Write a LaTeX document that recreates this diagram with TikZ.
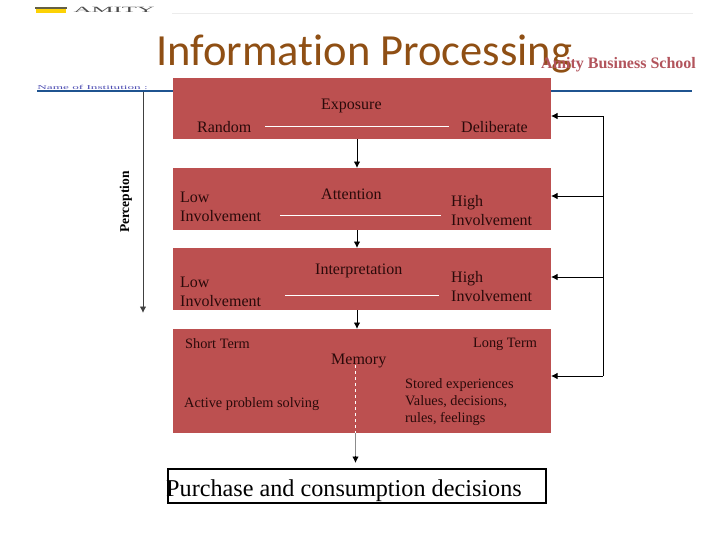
\documentclass[tikz,border=0pt]{standalone}
\usepackage{fontspec}
\setmainfont{Liberation Serif}
\newfontfamily\titlefont[Ligatures=NoCommon]{Carlito}
\definecolor{boxred}{HTML}{BC5050}
\definecolor{titlebrown}{HTML}{8F4F14}
\definecolor{schoolred}{HTML}{B2545C}
\definecolor{rulenavy}{HTML}{1F5490}
\definecolor{inktext}{HTML}{2A0A0A}
\usetikzlibrary{arrows.meta}
\tikzset{
  x=1pt,y=-1pt,
  panel/.style={fill=boxred,draw=none,minimum width=#1,inner sep=0pt,anchor=north west},
  lbl/.style={font=\fontsize{16}{19}\selectfont,text=inktext,inner sep=0pt,anchor=base west,align=left},
  small/.style={font=\fontsize{14.3}{17}\selectfont,text=inktext,inner sep=0pt,anchor=base west,align=left},
  splitline/.style={white,line width=0.8pt},
  flow/.style={black,line width=0.9pt,-{Latex[length=6.5pt,width=6.5pt]}},
  feedback/.style={black,line width=0.9pt},
}
\begin{document}
\begin{tikzpicture}
\useasboundingbox (0,0) rectangle (728,546);
% header
\fill[gray!15] (172,12.5) rectangle (693,13);
\fill[rulenavy] (37,89.5) rectangle (692,91.5);
\fill[black!70!yellow] (35,6.5) rectangle (67,8.5);
\fill[yellow!70!orange] (36,8.5) rectangle (66,12.5);
\node[inner sep=0pt,anchor=west,xscale=3.1,text=gray!60!black,font=\fontsize{8}{8}\selectfont] (logo) at (73,9.5) {AMITY};
\node[inner sep=0pt,anchor=west,xscale=2.2,text=blue!40!gray,font=\fontsize{6}{6}\selectfont] (inst) at (37,87) {Name of Institution :};
\node[panel=378pt,minimum height=61pt] (exposure) at (173,78) {};
\node[panel=378pt,minimum height=62pt] (attention) at (173,168) {};
\node[panel=378pt,minimum height=62pt] (interpretation) at (173,248) {};
\node[panel=378pt,minimum height=104pt] (memory) at (173,329) {};
\node[inner sep=0pt,anchor=base west,text=titlebrown,font=\titlefont\fontsize{44.5}{46}\selectfont] (title) at (156,65.5) {Information Processing};
\node[inner sep=0pt,anchor=base west,text=schoolred,font=\bfseries\fontsize{16}{18}\selectfont] (school) at (541,68) {Amity Business School};
% exposure
\node[lbl] (tExp) at (321,109) {Exposure};
\node[lbl] (tRan) at (197,132) {Random};
\node[lbl] (tDel) at (461,132) {Deliberate};
\coordinate (a1) at (265,126); \coordinate (a2) at (449,126);
\draw[splitline] (a1) -- (a2);
% attention
\node[lbl] (tAtt) at (321,199) {Attention};
\node[lbl] (tLow1) at (180,221) {Low\\Involvement};
\node[lbl] (tHigh1) at (451,225) {High\\Involvement};
\coordinate (b1) at (280,215); \coordinate (b2) at (441,215);
\draw[splitline] (b1) -- (b2);
% interpretation
\node[lbl] (tInt) at (315,274) {Interpretation};
\node[lbl] (tLow2) at (180,306) {Low\\Involvement};
\node[lbl] (tHigh2) at (451,301) {High\\Involvement};
\coordinate (c1) at (285,295); \coordinate (c2) at (439,295);
\draw[splitline] (c1) -- (c2);
% memory
\node[small] (tST) at (185,348) {Short Term};
\node[small] (tLT) at (473,347) {Long Term};
\node[lbl] (tMem) at (331,364) {Memory};
\node[small] (tAct) at (184,407) {Active problem solving};
\node[small] (tSto) at (405,422) {Stored experiences\\Values, decisions,\\rules, feelings};
% decision box
\node[draw=black,line width=1.5pt,minimum width=378pt,minimum height=34pt,inner sep=0pt,anchor=north west] (decide) at (167,468) {};
\node[inner sep=0pt,anchor=base west,font=\fontsize{24.2}{26}\selectfont] (tDec) at (166,496) {Purchase and consumption decisions};
% flow arrows
\draw[flow] (357,139) -- (357,168);
\draw[flow] (357,230) -- (357,248);
\draw[flow] (357,310) -- (357,329);
\draw[white,dashed,line width=0.7pt] (355.5,365) -- (355.5,433);
\draw[black!45,line width=1.2pt] (355.5,433) -- (355.5,458);
\draw[flow] (355.5,456) -- (355.5,463);
% perception
\coordinate (p0) at (143,91.5);
\coordinate (p1) at (143,313);
\draw[flow,black!75] (p0) -- (p1);
\node[rotate=90,inner sep=0pt,font=\bfseries\fontsize{13.5}{15}\selectfont] (tPer) at (126,202) {Perception};
% feedback
\coordinate (fTop) at (603,116);
\coordinate (fBot) at (603,376);
\draw[feedback] (fTop) -- (fBot);
\draw[flow] (fTop) -- (551,116);
\draw[flow] (603,196) -- (551,196);
\draw[flow] (603,277) -- (551,277);
\draw[flow] (fBot) -- (551,376);
\end{tikzpicture}
\end{document}
